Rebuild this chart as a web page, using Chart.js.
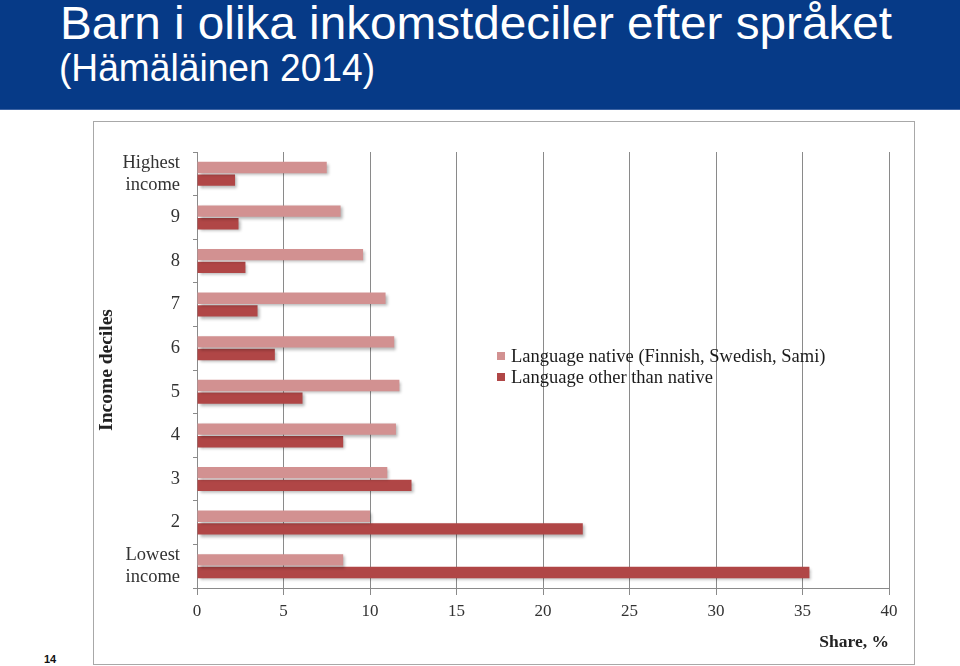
<!DOCTYPE html>
<html>
<head>
<meta charset="utf-8">
<script src="https://cdn.jsdelivr.net/npm/chart.js@4.4.1/dist/chart.umd.min.js"></script>
<style>
    body { margin: 0; background: #fff; width: 960px; height: 666px; overflow: hidden; position: relative; }
    .header { position: absolute; left: 0; top: 0; width: 960px; height: 109px; background: #063a87; border-bottom: 1px solid #3c63a3; }
    .title { position: absolute; color: #fff; font-family: "Liberation Sans", Arial, sans-serif; white-space: nowrap; transform-origin: 0 0; }
    #title1 { left: 60px; top: -5px; font-size: 47px; }
    #title2 { left: 59px; top: 47px; font-size: 38px; }
    .chart-box { position: absolute; left: 93px; top: 121px; width: 822px; height: 544px; box-sizing: border-box; border: 1px solid #a8a8a8; }
    #chart { display: block; }
    .legend { position: absolute; left: 497px; top: 346px; font-family: "Liberation Serif", "DejaVu Serif", serif; font-size: 18.5px; color: #1a1a1a; line-height: 21px; }
    .legend span.box { display: inline-block; width: 8px; height: 8px; margin-right: 6px; vertical-align: 2px; }
    .page-no { position: absolute; left: 44px; top: 653px; font-family: "Liberation Sans", Arial, sans-serif; font-weight: bold; font-size: 11px; color: #111; }
</style>
</head>
<body>
<div class="header">
    <div class="title" id="title1">Barn i olika inkomstdeciler efter språket</div>
    <div class="title" id="title2">(Hämäläinen 2014)</div>
</div>
<div class="chart-box">
    <canvas id="chart" width="820" height="542"></canvas>
</div>
<div class="legend" id="legend"></div>
<div class="page-no">14</div>
<script>
// inkomstdeciler, högsta överst
const categories = [['Highest', 'income'], '9', '8', '7', '6', '5', '4', '3', '2', ['Lowest', 'income']];
const nativeShare = [7.5, 8.3, 9.6, 10.9, 11.4, 11.7, 11.5, 11.0, 10.0, 8.45];
const otherShare = [2.2, 2.4, 2.8, 3.5, 4.5, 6.1, 8.45, 12.4, 22.3, 35.4];
const seriesNames = ['Language native (Finnish, Swedish, Sami)', 'Language other than native'];
const xTicks = [0, 5, 10, 15, 20, 25, 30, 35, 40];

const nativeColor = '#d29191';
const otherColor = '#b04646';
const serif = '"Liberation Serif", "DejaVu Serif", serif';

// rubriken: anpassa bredden
function fitTitle(id, targetWidth) {
    const el = document.getElementById(id);
    const w = el.getBoundingClientRect().width;
    el.style.transform = 'scaleX(' + (targetWidth / w) + ')';
}
fitTitle('title1', 832);
fitTitle('title2', 316);

// skugga under staplarna
const barShadow = {
    id: 'barShadow',
    beforeDatasetsDraw(chart) {
        const ctx = chart.ctx;
        ctx.save();
        ctx.shadowColor = 'rgba(0,0,0,0.3)';
        ctx.shadowOffsetX = 2;
        ctx.shadowOffsetY = 2;
        ctx.shadowBlur = 3;
    },
    afterDatasetsDraw(chart) {
        chart.ctx.restore();
    }
};

const ctx = document.getElementById('chart').getContext('2d');
const chart = new Chart(ctx, {
    type: 'bar',
    data: {
        labels: categories,
        datasets: [{
            label: seriesNames[0],
            data: nativeShare,
            backgroundColor: nativeColor,
            categoryPercentage: 0.58,
            barPercentage: 0.9
        }, {
            label: seriesNames[1],
            data: otherShare,
            backgroundColor: otherColor,
            categoryPercentage: 0.58,
            barPercentage: 0.9
        }]
    },
    options: {
        indexAxis: 'y',
        responsive: false,
        animation: false,
        layout: { padding: { left: 0, right: 25, top: 30, bottom: 0 } },
        scales: {
            x: {
                min: 0,
                max: 40,
                afterBuildTicks: function(scale) {
                    scale.ticks = xTicks.map(v => ({ value: v }));
                },
                afterFit: function(scale) { scale.height = 76; },
                grid: { color: '#8a8a8a', lineWidth: 1, tickLength: 7 },
                border: { color: '#8a8a8a' },
                ticks: { color: '#333', padding: 6, font: { family: serif, size: 17 } },
                title: {
                    display: true,
                    text: 'Share, %',
                    align: 'end',
                    color: '#222',
                    padding: { top: 0, bottom: 11 },
                    font: { family: serif, size: 17.5, weight: 'bold' }
                }
            },
            y: {
                afterFit: function(scale) {
                    scale.width = 103;
                    scale.paddingTop = 0;
                    scale.paddingBottom = 0;
                },
                grid: { drawOnChartArea: false, color: '#8a8a8a', tickLength: 4 },
                border: { color: '#8a8a8a' },
                ticks: { color: '#333', padding: 13, autoSkip: false, font: { family: serif, size: 18.5, lineHeight: 1.2 } },
                title: {
                    display: true,
                    text: 'Income deciles',
                    color: '#222',
                    padding: { top: 1, bottom: 0 },
                    font: { family: serif, size: 19.5, weight: 'bold' }
                }
            }
        },
        plugins: {
            legend: { display: false },
            tooltip: { enabled: false }
        }
    },
    plugins: [barShadow]
});

// förklaring inne i diagrammet
const legend = document.getElementById('legend');
chart.data.datasets.forEach(ds => {
    const row = document.createElement('div');
    const box = document.createElement('span');
    box.className = 'box';
    box.style.background = ds.backgroundColor;
    row.appendChild(box);
    row.appendChild(document.createTextNode(ds.label));
    legend.appendChild(row);
});
</script>
</body>
</html>
